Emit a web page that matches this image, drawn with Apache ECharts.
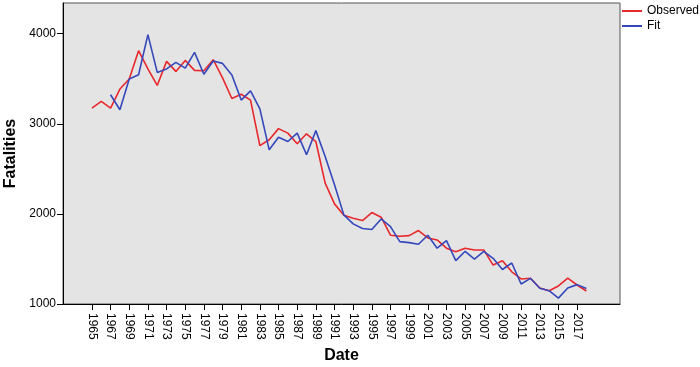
<!DOCTYPE html>
<html>
<head>
<meta charset="utf-8">
<script src="https://cdn.jsdelivr.net/npm/echarts@6/dist/echarts.min.js"></script>
<style>html,body{margin:0;padding:0;background:#fff}#c{width:700px;height:367px}</style>
</head>
<body>
<div id="c"></div>
<script>
var observedYears = [1965,1966,1967,1968,1969,1970,1971,1972,1973,1974,1975,1976,1977,1978,1979,1980,1981,1982,1983,1984,1985,1986,1987,1988,1989,1990,1991,1992,1993,1994,1995,1996,1997,1998,1999,2000,2001,2002,2003,2004,2005,2006,2007,2008,2009,2010,2011,2012,2013,2014,2015,2016,2017,2018];
var observedValues = [3174,3248,3174,3385,3497,3811,3608,3425,3692,3581,3703,3592,3589,3711,3510,3280,3328,3263,2757,2822,2946,2896,2778,2889,2803,2341,2111,1985,1952,1926,2015,1963,1763,1752,1759,1815,1733,1711,1619,1581,1619,1600,1600,1432,1481,1357,1278,1285,1178,1148,1200,1287,1211,1144];
var fitYears = [1967,1968,1969,1970,1971,1972,1973,1974,1975,1976,1977,1978,1979,1980,1981,1982,1983,1984,1985,1986,1987,1988,1989,1990,1991,1992,1993,1994,1995,1996,1997,1998,1999,2000,2001,2002,2003,2004,2005,2006,2007,2008,2009,2010,2011,2012,2013,2014,2015,2016,2017,2018];
var fitValues = [3322,3155,3497,3544,3989,3570,3608,3681,3618,3792,3550,3696,3670,3542,3263,3365,3165,2711,2850,2803,2896,2657,2924,2637,2322,1989,1889,1837,1826,1944,1859,1692,1681,1663,1763,1619,1704,1481,1585,1498,1585,1507,1383,1455,1222,1285,1174,1148,1065,1178,1215,1172];
var xTickLabels = [1965,1967,1969,1971,1973,1975,1977,1979,1981,1983,1985,1987,1989,1991,1993,1995,1997,1999,2001,2003,2005,2007,2009,2011,2013,2015,2017];
var yTickLabels = [1000,2000,3000,4000];

function pairs(xs, ys){ return xs.map(function(x,i){ return [x, ys[i]]; }); }

var FONT = 'Liberation Sans, Arial, Helvetica, sans-serif';
var chart = echarts.init(document.getElementById('c'), null, {renderer:'canvas'});
chart.setOption({
  animation: false,
  backgroundColor: '#ffffff',
  textStyle: {fontFamily: FONT},
  grid: {left: 63, right: 80, top: 3, bottom: 63, show: true, backgroundColor: '#e4e4e4', borderColor: '#555555', borderWidth: 1, outerBoundsMode: 'none', containLabel: false},
  legend: {
    show: true, orient: 'vertical', left: 622, top: 5, padding: 0, itemWidth: 20, itemHeight: 2, itemGap: 3,
    icon: 'rect',
    textStyle: {fontFamily: FONT, fontSize: 12, color: '#000'},
    data: ['Observed','Fit']
  },
  xAxis: {
    type: 'value', min: 1961.9, max: 2021.6,
    name: 'Date', nameLocation: 'middle', nameGap: 44,
    nameTextStyle: {fontFamily: FONT, fontSize: 16, fontWeight: 'bold', color: '#000'},
    splitLine: {show: false},
    axisLine: {show: true, lineStyle: {color: '#000', width: 1}},
    axisTick: {show: true, length: 6, lineStyle: {color: '#000'}, customValues: xTickLabels},
    axisLabel: {rotate: -90, margin: 9, fontSize: 12, color: '#000', fontFamily: FONT, customValues: xTickLabels, formatter: function(v){return String(v);}}
  },
  yAxis: {
    type: 'value', min: 1000, max: 4340,
    name: 'Fatalities', nameLocation: 'middle', nameGap: 40,
    nameTextStyle: {fontFamily: FONT, fontSize: 16, fontWeight: 'bold', color: '#000'},
    splitLine: {show: false},
    axisLine: {show: true, lineStyle: {color: '#000', width: 1}},
    axisTick: {show: true, length: 6, lineStyle: {color: '#000'}, customValues: yTickLabels},
    axisLabel: {fontSize: 12, color: '#000', margin: 7, fontFamily: FONT, customValues: yTickLabels, formatter: function(v){return String(v);}}
  },
  series: [
    {name: 'Observed', type: 'line', data: pairs(observedYears, observedValues), symbol: 'none', lineStyle: {color: '#e8282c', width: 1.6}, itemStyle: {color: '#e8282c'}},
    {name: 'Fit', type: 'line', data: pairs(fitYears, fitValues), symbol: 'none', lineStyle: {color: '#3548bb', width: 1.6}, itemStyle: {color: '#3548bb'}}
  ]
});
</script>
</body>
</html>
